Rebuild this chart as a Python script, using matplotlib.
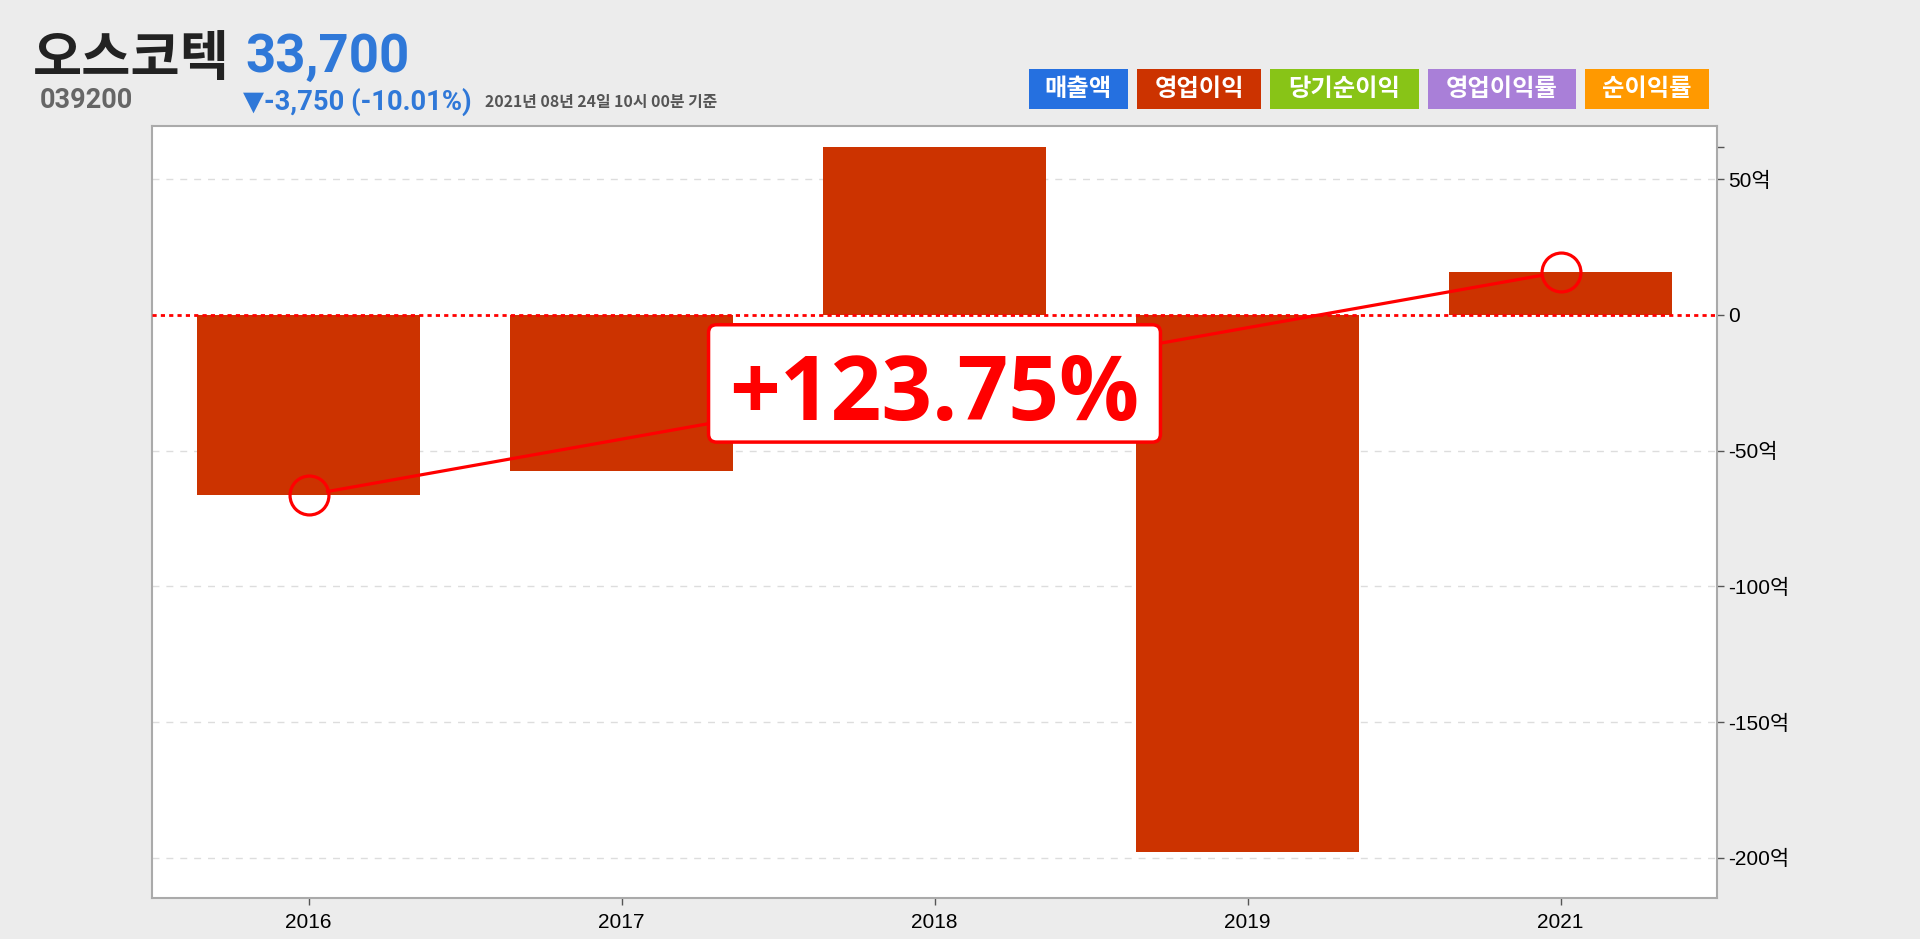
#!/usr/bin/env python3
import numpy as np
import matplotlib
matplotlib.use("Agg")
import matplotlib.pyplot as plt
from matplotlib.patches import Rectangle, FancyBboxPatch

# 영업이익 (단위: 억)
years = ["2016", "2017", "2018", "2019", "2021"]
op_profit = [-66.32, -57.7, 61.8, -197.9, 15.75]
ytick_vals = [50, 0, -50, -100, -150, -200]

company = "오스코텍"
code = "039200"
price = "33,700"
change = "▼-3,750 (-10.01%)"
stamp = "2021년 08년 24일 10시 00분 기준"

legend_labels = ["매출액", "영업이익", "당기순이익", "영업이익률", "순이익률"]
legend_colors = ["#2570e0", "#cc3300", "#88c417", "#a97fd8", "#ff9900"]

bar_color = "#cc3300"
line_red = "#ff0000"
blue = "#2f78d8"
bold_latin = ["Roboto", "DejaVu Sans"]

plt.rcParams['font.family'] = ['Liberation Sans', 'Noto Sans CJK KR', 'DejaVu Sans']

fig = plt.figure(figsize=(19.2, 9.39), dpi=100)
fig.patch.set_facecolor("#ececec")
ax = fig.add_axes([152 / 1920, 1 - 897.6 / 939, (1717 - 152) / 1920, (897.6 - 126) / 939])
ax.set_facecolor("white")

x = np.arange(len(years))
ax.bar(x, op_profit, width=0.71, color=bar_color, zorder=2)
ax.set_xlim(-0.5, len(years) - 0.5)
ax.set_ylim(-214.6, 69.5)

# grid & zero line
for v in ytick_vals:
    if v != 0:
        ax.axhline(v, color="#dddddd", lw=1, ls=(0, (5, 5)), zorder=1)
ax.axhline(0, color=line_red, lw=2, ls=(0, (1.5, 1.5)), zorder=3)

# 2016 -> 2021 증감선 (원 가장자리에서 끊김)
first, last = op_profit[0], op_profit[-1]
ring = 28  # marker size, pt
ax.plot([x[0], x[-1]], [first, last], ls="none", zorder=5,
        marker="o", markersize=ring, markerfacecolor="none",
        markeredgecolor=line_red, markeredgewidth=2.3)
p0 = ax.transData.transform((x[0], first))
p1 = ax.transData.transform((x[-1], last))
d = (p1 - p0) / np.hypot(*(p1 - p0))
r_px = ring / 2 * fig.dpi / 72
q0, q1 = ax.transData.inverted().transform([p0 + d * r_px, p1 - d * r_px])
ax.plot([q0[0], q1[0]], [q0[1], q1[1]], color=line_red, lw=2.3, zorder=4)

# 증감률 라벨
growth = (last - first) / abs(first) * 100
fs = 64
xm, ym = (x[0] + x[-1]) / 2, (first + last) / 2
lbl = ax.annotate(f"{growth:+.2f}%", (xm, ym), xytext=(0, -0.357 * fs - 3.5),
                  textcoords="offset points", ha="center", va="baseline",
                  fontsize=fs, fontweight="bold", color=line_red,
                  family=["Open Sans", "DejaVu Sans"], zorder=7)
fig.canvas.draw()
tb = lbl.get_window_extent(fig.canvas.get_renderer())
fs_px = fs * fig.dpi / 72
cx, cy = ax.transData.transform((xm, ym))
hw = tb.width / 2 + 0.235 * fs_px
hh = 0.66 * fs_px
box = FancyBboxPatch((cx - hw, cy - hh), 2 * hw, 2 * hh, transform=None,
                     boxstyle="round,pad=0,rounding_size=8",
                     fc="white", ec=line_red, lw=2.5, zorder=6)
ax.add_artist(box)

# axes styling
ax.yaxis.tick_right()
ticks = [max(op_profit)] + ytick_vals
labels = [""] + [("0" if v == 0 else f"{v}억") for v in ytick_vals]
ax.set_yticks(ticks)
ax.set_yticklabels(labels, fontsize=15)
ax.set_xticks(x)
ax.set_xticklabels(years, fontsize=15)
ax.tick_params(axis="y", length=5, width=1, color="#555555", pad=3)
ax.tick_params(axis="x", length=5, width=1, color="#555555", pad=6)
for s in ax.spines.values():
    s.set_color("#aaaaaa")
    s.set_linewidth(1.5)

# header
fig.text(33 / 1920, 1 - 75 / 939, company, fontsize=38.5, fontweight="bold",
         color="#222222", family=["Noto Sans CJK KR"], va="baseline")
fig.text(245 / 1920, 1 - 72 / 939, price, fontsize=38, fontweight="bold",
         color=blue, family=bold_latin, va="baseline")
fig.text(40 / 1920, 1 - 107.5 / 939, code, fontsize=19.5, fontweight="bold",
         color="#666666", family=bold_latin, va="baseline")
fig.text(243 / 1920, 1 - 110 / 939, change, fontsize=19.7, fontweight="bold",
         color=blue, family=bold_latin, va="baseline")
fig.text(485 / 1920, 1 - 106.5 / 939, stamp, fontsize=11.4, fontweight="bold",
         color="#555555", family=["Noto Sans CJK KR"], va="baseline")

# legend buttons
bx = 1028.6
for lab, col in zip(legend_labels, legend_colors):
    w = 26 + 24.5 * len(lab)
    fig.patches.append(Rectangle((bx / 1920, 1 - 109 / 939), w / 1920, 40.5 / 939,
                                 transform=fig.transFigure, fc=col, ec="none"))
    fig.text((bx + w / 2) / 1920, 1 - 89 / 939, lab, fontsize=17.5, fontweight="bold",
             color="white", family=["Noto Sans CJK KR"], ha="center", va="center")
    bx += w + 9

fig.savefig("out.png", dpi=100, facecolor=fig.get_facecolor())
